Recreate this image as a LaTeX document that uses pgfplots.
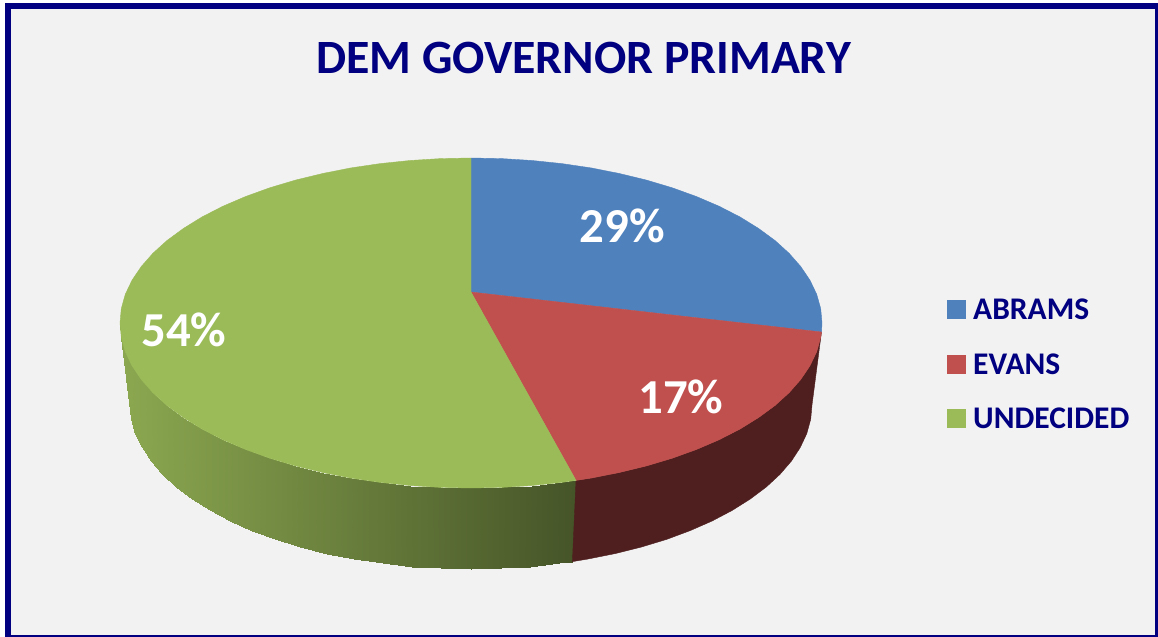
\documentclass[border=0pt]{standalone}
\usepackage{fontspec}
\setmainfont{Carlito}
\usepackage{pgfplots}
\pgfplotsset{compat=1.18}
\definecolor{navy}{HTML}{000080}
\definecolor{panel}{HTML}{F2F2F2}
\definecolor{abrams}{HTML}{4F81BD}
\definecolor{evans}{HTML}{C0504D}
\definecolor{undecided}{HTML}{9BBB59}
\definecolor{evansside}{HTML}{4F1F1F}
\begin{document}
\begin{tikzpicture}
\begin{axis}[
	scale only axis,
	width=579pt, height=318.5pt,
	xmin=0, xmax=1158,
	ymin=0, ymax=637,
	y dir=reverse,
	hide axis,
	title={DEM GOVERNOR PRIMARY},
	every axis title shift=0pt,
	title style={at={(axis cs:583.5,58)}, anchor=center, inner sep=0pt, text=navy, font=\fontsize{23.9}{28}\selectfont\bfseries},
	colormap={greenside}{color=(undecided!90!black) color=(undecided!45!black)},
	legend style={at={(axis cs:947,299.5)}, anchor=north west, draw=none, fill=none, inner sep=0pt, outer sep=0pt, text=navy, font=\fontsize{15.75}{18}\selectfont\bfseries, row sep=17.25pt, nodes={inner sep=0pt, text height=10pt, text depth=0pt}},
	legend cell align=left,
	legend image code/.code={\fill[#1] (0pt,-4.5pt) rectangle (9pt,4.5pt); \path[draw=none, fill=none] (0pt,0pt) -- (13pt,0pt);},
]
	% frame
	\addplot[forget plot, fill=white, draw=none] coordinates {(0,0) (1158,0) (1158,637) (0,637)} --cycle;
	\addplot[forget plot, fill=navy, draw=none] coordinates {(5,3) (1158,3) (1158,637) (5,637)} --cycle;
	\addplot[forget plot, fill=panel, draw=none] coordinates {(11,9) (1155,9) (1155,635) (11,635)} --cycle;

	% side walls
	\addplot[forget plot, surf, shader=interp, mesh/cols=2, point meta=x, point meta min=120, point meta max=576] table {
x y
120 323
130 405
121.3 337.4
131.3 419.3
125.3 351.7
135.2 433.5
132 365.7
141.7 447.4
141.2 379.4
150.6 461.1
152.9 392.7
162 474.3
167 405.5
175.7 487
183.5 417.6
191.7 499
202.1 429.1
209.8 510.4
222.8 439.7
229.9 521
245.4 449.4
251.8 530.6
269.7 458.2
275.4 539.4
295.5 465.9
300.5 547
322.7 472.5
326.9 553.6
351 478.1
354.4 559.1
380.2 482.4
382.8 563.4
410 485.5
411.7 566.5
440.4 487.4
441.3 568.4
471 488
471 569
501.6 487.4
500.7 568.4
532 485.5
530.3 566.5
561.8 482.4
559.2 563.4
576 480.4
572.4 561.6
};
	\addplot[forget plot, fill=evansside, draw=evansside, line width=0.2pt] coordinates {
		(821.5,332) (820.7,337.4) (816.7,351.7) (810,365.7) (800.8,379.4) (789.1,392.7) (775,405.5) (758.5,417.6)
		(739.9,429.1) (719.2,439.7) (696.6,449.4) (672.3,458.2) (646.5,465.9) (619.3,472.5) (591,478.1) (576,480.4)
		(572.4,561.6) (587.6,559.1) (615.1,553.6) (641.5,547) (666.6,539.4) (690.2,530.6) (712.1,521) (732.2,510.4)
		(750.3,499) (766.3,487) (780,474.3) (791.4,461.1) (800.3,447.4) (806.8,433.5) (810.7,419.3) (812,405)
	} --cycle;

	% top face
	\addplot[fill=abrams, draw=abrams, line width=0.2pt] coordinates {
		(471,292) (471,158) (501.6,158.6) (532,160.5) (561.8,163.6) (591,167.9) (619.3,173.5) (646.5,180.1) (672.3,187.8)
		(696.6,196.6) (719.2,206.3) (739.9,216.9) (758.5,228.4) (775,240.5) (789.1,253.3) (800.8,266.6) (810,280.3)
		(816.7,294.3) (820.7,308.6) (822,323) (821.5,332)
	} --cycle;
	\addlegendentry{ABRAMS}
	\addplot[fill=evans, draw=evans, line width=0.2pt] coordinates {
		(471,292) (821.5,332) (820.7,337.4) (816.7,351.7) (810,365.7) (800.8,379.4) (789.1,392.7) (775,405.5) (758.5,417.6)
		(739.9,429.1) (719.2,439.7) (696.6,449.4) (672.3,458.2) (646.5,465.9) (619.3,472.5) (591,478.1) (576,480.4)
	} --cycle;
	\addlegendentry{EVANS}
	\addplot[fill=undecided, draw=undecided, line width=0.2pt] coordinates {
		(471,292) (576,480.4) (561.8,482.4) (532,485.5) (501.6,487.4) (471,488) (440.4,487.4) (410,485.5) (380.2,482.4)
		(351,478.1) (322.7,472.5) (295.5,465.9) (269.7,458.2) (245.4,449.4) (222.8,439.7) (202.1,429.1) (183.5,417.6)
		(167,405.5) (152.9,392.7) (141.2,379.4) (132,365.7) (125.3,351.7) (121.3,337.4) (120,323) (121.3,308.6)
		(125.3,294.3) (132,280.3) (141.2,266.6) (152.9,253.3) (167,240.5) (183.5,228.4) (202.1,216.9) (222.8,206.3)
		(245.4,196.6) (269.7,187.8) (295.5,180.1) (322.7,173.5) (351,167.9) (380.2,163.6) (410,160.5) (440.4,158.6) (471,158)
	} --cycle;
	\addlegendentry{UNDECIDED}

	% percent labels
	\addplot[forget plot, only marks, mark=none, point meta=explicit symbolic,
		nodes near coords={\pgfplotspointmeta\%},
		nodes near coords style={anchor=center, inner sep=0pt, text=white, font=\fontsize{24.4}{28}\selectfont\bfseries}]
		table [meta=pct] {
x y pct
622.5 226 29
681 397 17
184 330 54
};
\end{axis}
\end{tikzpicture}
\end{document}
